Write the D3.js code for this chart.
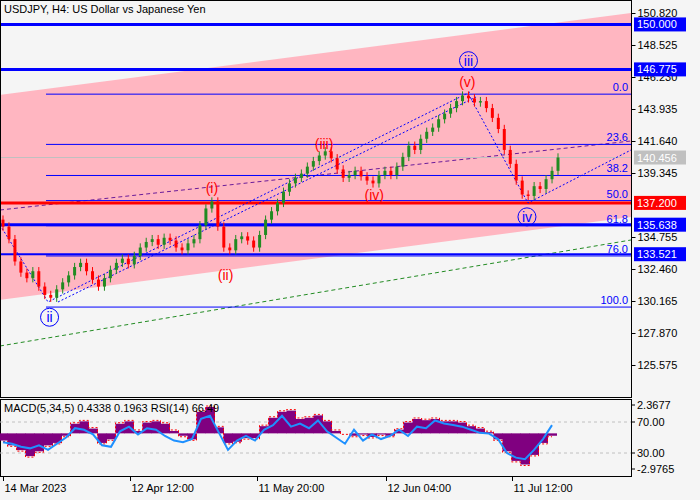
<!doctype html>
<html lang="en">
<head>
<meta charset="utf-8">
<script src="https://d3js.org/d3.v7.min.js"></script>
<style>
  body { margin: 0; background: #f5f5f5; }
  text { font-family: "Liberation Sans", Arial, sans-serif; font-size: 11px; }
</style>
</head>
<body>
<svg id="chart" width="700" height="500"></svg>
<script>
// close prices, H4 candles
var closes = [135.5, 134.6, 133.0, 132.2, 131.8, 132.3, 131.2, 130.6, 130.4, 131.0,
  131.5, 132.0, 132.6, 132.9, 132.3, 131.7, 131.2, 131.8, 132.4, 132.9,
  133.2, 132.8, 133.4, 134.0, 134.4, 134.6, 134.2, 134.7, 134.5, 134.0,
  133.8, 134.3, 134.6, 135.6, 136.8, 137.3, 135.5, 134.0, 133.8, 134.6,
  134.8, 134.5, 134.0, 134.9, 136.0, 136.6, 137.2, 138.0, 138.6, 139.0,
  139.3, 139.8, 140.2, 140.6, 140.9, 140.4, 139.6, 139.0, 139.2, 139.5,
  139.1, 138.8, 138.6, 139.2, 139.5, 139.2, 139.8, 140.5, 141.3, 141.0,
  141.8, 142.3, 142.6, 143.2, 143.6, 144.0, 144.5, 144.9, 144.7, 144.4,
  144.5, 144.0, 143.3, 142.5, 141.0, 140.0, 138.8, 137.8, 137.7, 138.4,
  138.2, 138.9, 139.5, 140.456];
var firstOpen = 136.0;

// MACD histogram and RSI, one value per indicator step
var macdHist = [-0.6, -1.0, -1.4, -1.9, -1.5, -1.0, -0.8, -0.2, 0.8, 1.0,
  0.4, -0.8, -0.5, 0.8, 1.0, 0.2, 0.9, 1.0, 0.8, 0.2,
  -0.2, -0.5, 1.8, 2.2, 0.5, -0.8, -0.7, -0.4, -0.4, 0.6,
  1.3, 1.8, 1.9, 1.2, 1.3, 1.5, 1.0, 0.2, 0.0, -0.2,
  -0.1, -0.3, -0.1, -0.2, 0.3, 0.9, 1.2, 1.1, 1.2, 1.0,
  1.0, 0.9, 0.6, 0.4, 0.1, -0.5, -1.5, -2.3, -2.6, -1.8,
  -0.8, -0.2];
var rsi = [44, 42, 38, 36, 40, 34, 42, 50, 62, 60,
  54, 40, 38, 58, 64, 54, 62, 60, 52, 46,
  44, 48, 74, 78, 56, 34, 46, 52, 46, 60,
  66, 78, 64, 68, 62, 72, 58, 50, 42, 60,
  46, 54, 48, 52, 60, 52, 64, 62, 72, 68,
  66, 64, 60, 56, 55, 48, 30, 24, 22, 34,
  48, 66];

var priceTicks = [150.820, 148.525, 146.230, 143.935, 141.640, 139.345, 134.755, 132.460, 130.165, 127.870, 125.575];
var levels = [
  { p: 150.000, c: "#0000ff", w: 3 },
  { p: 146.775, c: "#0000ff", w: 3 },
  { p: 137.200, c: "#ff0000", w: 3 },
  { p: 135.638, c: "#0000ff", w: 3 },
  { p: 133.521, c: "#0000ff", w: 2 }
];
var fibHigh = 145.0, fibLow = 129.73;
var fibRatios = [0, 23.6, 38.2, 50.0, 61.8, 76.0, 100.0];
var fibLabels = ["0.0", "23.6", "38.2", "50.0", "61.8", "76.0", "100.0"];
var lastPrice = 140.456;

var dateLabels = ["14 Mar 2023", "12 Apr 12:00", "11 May 20:00", "12 Jun 04:00", "11 Jul 12:00"];
var dateIdx = [0, 21.2, 42.5, 64.2, 85.3];

// wave labels: [candle index, price, text, kind]
var waves = [
  [7.8, 129.0, "ii", "c"], [78, 147.4, "iii", "c"], [87.8, 136.2, "iv", "c"],
  [35, 138.3, "(i)", "r"], [37.3, 132.0, "(ii)", "r"], [53.8, 141.4, "(iii)", "r"],
  [62.2, 137.8, "(iv)", "r"], [77.8, 145.9, "(v)", "r"]
];

var svg = d3.select("#chart");
var W = 631, mainBot = 397, indTop = 399, indBot = 476;

var x = d3.scaleLinear().domain([0, closes.length - 1]).range([3, 558]);
var y = d3.scaleLinear().domain([150.820, 130.165]).range([13, 301]);
var xi = d3.scaleLinear().domain([0, macdHist.length - 1]).range([3, 552]);
var yM = d3.scaleLinear().domain([2.3677, -2.9765]).range([405, 469]);
var yR = d3.scaleLinear().domain([70, 30]).range([422, 453]);

svg.append("rect").attr("x", 0).attr("y", 0).attr("width", 700).attr("height", 500).attr("fill", "#f5f5f5");
var defs = svg.append("defs");
defs.append("clipPath").attr("id", "mc").append("rect").attr("x", 1).attr("y", 1).attr("width", W - 1).attr("height", mainBot - 1);
var g = svg.append("g").attr("clip-path", "url(#mc)");

// pink channel
g.append("polygon").attr("fill", "#ffb6c1")
  .attr("points", [[0, 95], [W, 13], [W, 217], [0, 300]].join(" "));

// green dashed trend
g.append("line").attr("x1", 0).attr("y1", 346).attr("x2", W).attr("y2", 240)
  .attr("stroke", "#228b22").attr("stroke-dasharray", "4,3");
// purple dashed
g.append("line").attr("x1", 0).attr("y1", 210).attr("x2", W).attr("y2", 141)
  .attr("stroke", "#6a1b9a").attr("stroke-dasharray", "4,3");

// fibo lines
fibRatios.forEach(function (r, i) {
  var p = fibHigh - (fibHigh - fibLow) * r / 100;
  g.append("line").attr("x1", 46).attr("x2", W).attr("y1", y(p)).attr("y2", y(p)).attr("stroke", "#0000ff");
  g.append("text").attr("x", 628).attr("y", y(p) - 3).attr("text-anchor", "end").attr("fill", "#0000ff").text(fibLabels[i]);
});
g.append("line").attr("x1", 0).attr("x2", W).attr("y1", y(lastPrice)).attr("y2", y(lastPrice)).attr("stroke", "#c0c0c0");
levels.forEach(function (l) {
  g.append("line").attr("x1", 0).attr("x2", W).attr("y1", y(l.p)).attr("y2", y(l.p)).attr("stroke", l.c).attr("stroke-width", l.w);
});

// blue dotted wave lines
var dot = function (pts) {
  g.append("path").attr("d", d3.line()(pts)).attr("fill", "none").attr("stroke", "#0000ff").attr("stroke-dasharray", "2,2");
};
dot([[0, 225], [48, 302], [470, 92]]);
dot([[58, 302], [476, 97]]);
dot([[470, 97], [528, 203], [W, 150]]);

// candles
var cg = g.append("g");
closes.forEach(function (c, i) {
  var o = i === 0 ? firstOpen : closes[i - 1];
  var col = c >= o ? "#228b22" : "#ff0000";
  var hi = Math.max(o, c) + 0.3, lo = Math.min(o, c) - 0.3;
  cg.append("line").attr("x1", x(i)).attr("x2", x(i)).attr("y1", y(hi)).attr("y2", y(lo)).attr("stroke", col);
  cg.append("rect").attr("x", x(i) - 1.5).attr("width", 3)
    .attr("y", y(Math.max(o, c))).attr("height", Math.max(1, y(Math.min(o, c)) - y(Math.max(o, c))))
    .attr("fill", col);
});

// wave labels
waves.forEach(function (w) {
  var px = x(w[0]), py = y(w[1]);
  if (w[3] === "c") {
    g.append("circle").attr("cx", px).attr("cy", py).attr("r", 9).attr("fill", "none").attr("stroke", "#0000ff");
    g.append("text").attr("x", px).attr("y", py + 5).attr("text-anchor", "middle").attr("fill", "#0000ff").style("font-size", "14px").text(w[2]);
  } else {
    g.append("text").attr("x", px).attr("y", py + 5).attr("text-anchor", "middle").attr("fill", "#ff0000").style("font-size", "14px").text(w[2]);
  }
});

svg.append("text").attr("x", 4).attr("y", 13).attr("fill", "#000").text("USDJPY, H4:  US Dollar vs Japanese Yen");

svg.append("rect").attr("x", 0.5).attr("y", 0.5).attr("width", W).attr("height", mainBot).attr("fill", "none").attr("stroke", "#000");
svg.append("rect").attr("x", 0.5).attr("y", indTop + 0.5).attr("width", W).attr("height", indBot - indTop).attr("fill", "none").attr("stroke", "#000");

// price axis
var axis = svg.append("g").attr("transform", "translate(" + (W + 0.5) + ",0)")
  .call(d3.axisRight(y).tickValues(priceTicks).tickFormat(d3.format(".3f")).tickSize(4).tickPadding(2));
axis.select(".domain").remove();
axis.selectAll("text").style("font-size", "11px").attr("fill", "#000");

levels.concat([{ p: lastPrice, c: "#c0c0c0" }]).forEach(function (l) {
  svg.append("rect").attr("x", W + 3).attr("y", y(l.p) - 7).attr("width", 52).attr("height", 14).attr("fill", l.c);
  svg.append("text").attr("x", W + 6).attr("y", y(l.p) + 4).attr("fill", "#fff").text(l.p.toFixed(3));
});

// indicator panel
var ig = svg.append("g");
ig.append("line").attr("x1", 0).attr("x2", W).attr("y1", yR(70)).attr("y2", yR(70)).attr("stroke", "#c0c0c0").attr("stroke-dasharray", "3,3");
ig.append("line").attr("x1", 0).attr("x2", W).attr("y1", yR(30)).attr("y2", yR(30)).attr("stroke", "#c0c0c0").attr("stroke-dasharray", "3,3");
var stepW = xi(1) - xi(0);
macdHist.forEach(function (v, i) {
  ig.append("rect").attr("x", xi(i) - stepW / 2).attr("width", stepW + 0.5)
    .attr("y", Math.min(yM(v), yM(0))).attr("height", Math.abs(yM(v) - yM(0)))
    .attr("fill", "#800080");
});
ig.append("path").datum(macdHist)
  .attr("d", d3.line().x(function (d, i) { return xi(i); }).y(function (d) { return yM(d) + (d > 0 ? -1 : 1); }).curve(d3.curveStep))
  .attr("fill", "none").attr("stroke", "#ff0000").attr("stroke-dasharray", "2,2");
ig.append("path").datum(rsi)
  .attr("d", d3.line().x(function (d, i) { return xi(i); }).y(function (d) { return yR(d); }))
  .attr("fill", "none").attr("stroke", "#1e90ff").attr("stroke-width", 2);
ig.append("text").attr("x", 4).attr("y", 412).text("MACD(5,34,5) 0.4338 0.1963 RSI(14) 66.49");

var indTicks = [[yM(2.3677), "2.3677"], [yR(70), "70.00"], [yR(30), "30.00"], [yM(-2.9765), "-2.9765"]];
indTicks.forEach(function (t) {
  svg.append("line").attr("x1", W).attr("x2", W + 4).attr("y1", t[0]).attr("y2", t[0]).attr("stroke", "#000");
  svg.append("text").attr("x", W + 6).attr("y", t[0] + 4).text(t[1]);
});

// time axis
dateIdx.forEach(function (d, i) {
  var px = Math.round(x(d)) + 0.5;
  svg.append("line").attr("x1", px).attr("x2", px).attr("y1", indBot).attr("y2", indBot + 5).attr("stroke", "#000");
  svg.append("text").attr("x", px + 1).attr("y", 492).text(dateLabels[i]);
});
</script>
</body>
</html>
